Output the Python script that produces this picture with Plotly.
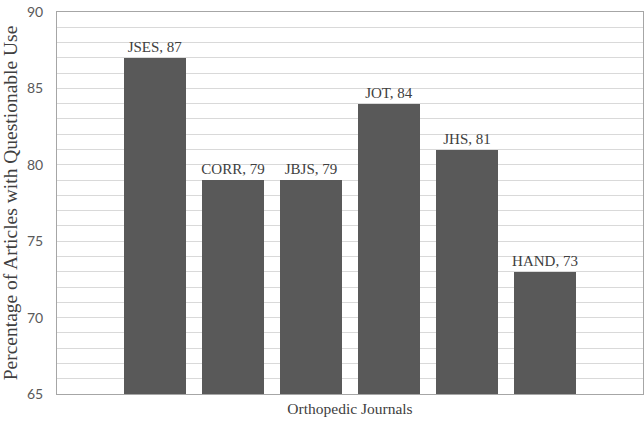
import plotly.graph_objects as go

journals = ["JSES", "CORR", "JBJS", "JOT", "JHS", "HAND"]
percentages = [87, 79, 79, 84, 81, 73]
positions = [1, 2, 3, 4, 5, 6]
y_ticks = [65, 70, 75, 80, 85, 90]

labels = [f"{j}, {v}" for j, v in zip(journals, percentages)]

fig = go.Figure(go.Bar(
    x=positions, y=percentages, width=0.79,
    marker=dict(color="#595959", line=dict(width=0)),
    text=labels, textposition="outside", cliponaxis=False, constraintext="none",
    textfont=dict(family="Liberation Serif", size=15, color="#404040"),
    hoverinfo="skip",
))

fig.update_layout(
    width=644, height=427,
    margin=dict(l=57, r=1, t=12, b=33),
    plot_bgcolor="white", paper_bgcolor="white",
    showlegend=False, bargap=0,
    xaxis=dict(
        range=[-0.256, 7.256], showticklabels=False, showgrid=False, automargin=False,
        zeroline=False, showline=True, linecolor="#a6a6a6", linewidth=1, mirror=True,
        title=dict(text="Orthopedic Journals", standoff=9,
                   font=dict(family="Liberation Serif", size=15.5, color="#404040")),
    ),
    yaxis=dict(
        range=[65, 90], tickvals=y_ticks, showgrid=True, gridcolor="#d9d9d9", gridwidth=1,
        minor=dict(dtick=1, showgrid=True, gridcolor="#d9d9d9", gridwidth=1),
        zeroline=False, showline=True, linecolor="#a6a6a6", linewidth=1, mirror=True,
        ticks="", ticklabelstandoff=10, automargin=False,
        tickfont=dict(family="Lato", size=14, color="#595959"),
        title=dict(text="Percentage of Articles with Questionable Use", standoff=9,
                   font=dict(family="Liberation Serif", size=19.5, color="#404040")),
    ),
)

fig.write_html("out.html", config={"displayModeBar": False},
               post_script="document.body.style.margin='0';document.body.style.overflow='hidden';")
